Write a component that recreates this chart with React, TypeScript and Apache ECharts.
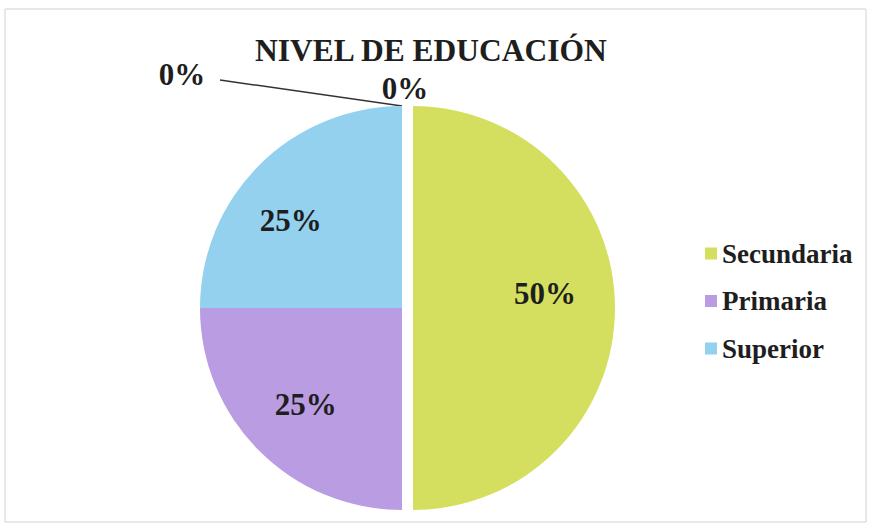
import React, { useEffect, useRef } from 'react';
import * as echarts from 'echarts';

const categories = ['Secundaria', 'Primaria', 'Superior', 'Ninguna', 'Técnica'];
const values = [50, 25, 25, 0, 0];
const legendItems = ['Secundaria', 'Primaria', 'Superior'];
const colors = ['#d4df5f', '#b99ce1', '#93d1ef', '#d9d9d9', '#d9d9d9'];
const titleText = 'NIVEL DE EDUCACIÓN';

const FONT = 'Liberation Serif';

export default function App() {
  const ref = useRef<HTMLDivElement>(null);
  useEffect(() => {
    const chart = echarts.init(ref.current!, null, { renderer: 'svg' });
    const center = [402, 308];
    const R = 202;
    const pct = (p: any) => Math.round(p.percent) + '%';
    const labelShift: number[][] = [[-7, -15], [2, -2], [-13, 11], [0, 0], [0, 0]];
    const mainData = categories.map((name, i) => ({
      name,
      value: values[i],
      selected: i === 0,
      itemStyle: { color: colors[i] },
      label: { show: values[i] === 0 },
      labelLine: { show: i === 4 },
    }));
    const labelData = categories.map((name, i) => ({
      name,
      value: values[i],
      selected: i === 0,
      itemStyle: { color: 'rgba(0,0,0,0)' },
      label: { show: values[i] !== 0 },
    }));
    chart.setOption({
      animation: false,
      backgroundColor: '#ffffff',
      title: {
        text: titleText,
        left: 250,
        top: 29,
        textStyle: { fontFamily: FONT, fontSize: 31.5, fontWeight: 'bold', color: '#1e1e1e' },
      },
      legend: {
        data: legendItems,
        orient: 'vertical',
        left: 700,
        top: 235,
        itemWidth: 12,
        itemHeight: 12,
        itemGap: 20.5,
        icon: 'rect',
        selectedMode: false,
        textStyle: { fontFamily: FONT, fontSize: 27, fontWeight: 'bold', color: '#1e1e1e', lineHeight: 26 },
      },
      graphic: [
        {
          type: 'rect',
          silent: true,
          z: -1,
          shape: { x: 5, y: 9, width: 861, height: 513 },
          style: { fill: 'none', stroke: '#d2d2d2', lineWidth: 1 },
        },
      ],
      series: [
        {
          type: 'pie',
          center,
          radius: [0, R],
          startAngle: 90,
          clockwise: true,
          selectedMode: 'single',
          selectedOffset: 11,
          avoidLabelOverlap: false,
          emphasis: { disabled: true },
          select: { itemStyle: { borderWidth: 0 } },
          data: mainData,
          label: {
            position: 'outside',
            formatter: pct,
            fontFamily: FONT,
            fontSize: 31,
            fontWeight: 'bold',
            color: '#1e1e1e',
          },
          labelLine: { lineStyle: { color: '#333', width: 1.5 }, length: 10, length2: 5 },
          labelLayout: (params: any) => {
            if (params.dataIndex === 3) {
              return { x: 405, y: 88, align: 'center', verticalAlign: 'middle' };
            }
            if (params.dataIndex === 4) {
              const a = params.labelLinePoints ? params.labelLinePoints[0] : [402, 104];
              return {
                x: 182,
                y: 74,
                align: 'center',
                verticalAlign: 'middle',
                labelLinePoints: [a, [220, 80], [220, 80]],
              };
            }
            return {};
          },
        },
        {
          type: 'pie',
          center,
          radius: [70, R],
          startAngle: 90,
          clockwise: true,
          silent: true,
          selectedMode: 'single',
          selectedOffset: 11,
          avoidLabelOverlap: false,
          emphasis: { disabled: true },
          select: { itemStyle: { borderWidth: 0 } },
          data: labelData,
          labelLine: { show: false },
          label: {
            position: 'inside',
            formatter: pct,
            fontFamily: FONT,
            fontSize: 31,
            fontWeight: 'bold',
            color: '#1e1e1e',
          },
          labelLayout: (params: any) => {
            const s = labelShift[params.dataIndex] || [0, 0];
            return { dx: s[0], dy: s[1] };
          },
        },
      ],
    });
    return () => chart.dispose();
  }, []);
  return <div ref={ref} style={{ position: 'absolute', left: 0, top: 0, width: 871, height: 529 }} />;
}
